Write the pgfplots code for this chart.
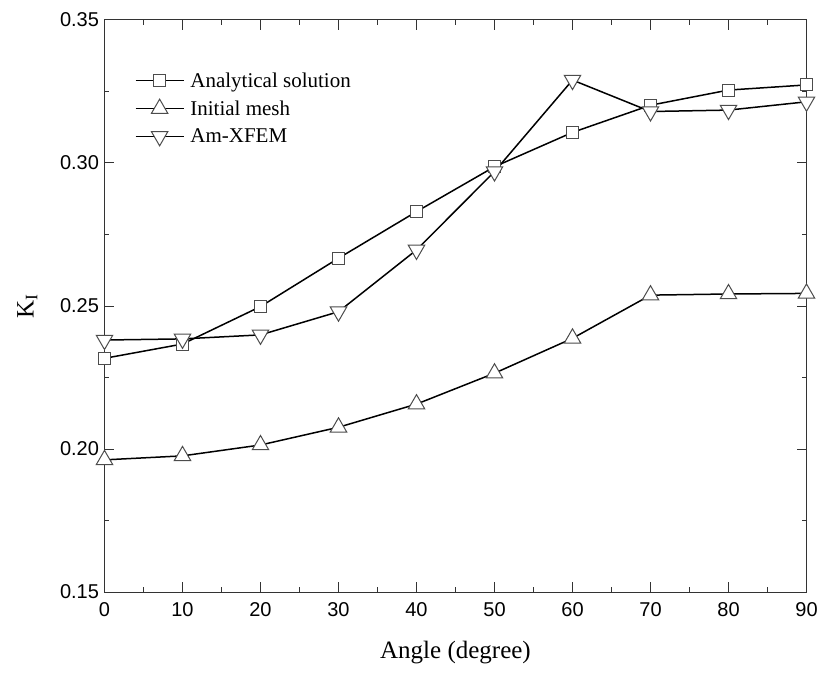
\documentclass[border=0pt]{standalone}
\usepackage{fontspec}
\setmainfont{Liberation Serif}
\setsansfont{Liberation Sans}
\usepackage{pgfplots}
\pgfplotsset{compat=1.18}
\begin{document}
\begin{tikzpicture}
\begin{axis}[
  scale only axis, width=702pt, height=572pt,
  xmin=0, xmax=90, ymin=0.15, ymax=0.35,
  xtick={0,10,20,30,40,50,60,70,80,90},
  ytick={0.15,0.20,0.25,0.30,0.35},
  minor x tick num=1, minor y tick num=1,
  tick align=inside, major tick length=10pt, minor tick length=5pt,
  axis line style={line width=1pt, black!80},
  every tick/.style={line width=1pt, black!80},
  /pgf/number format/assume math mode=true,
  yticklabel style={/pgf/number format/fixed, /pgf/number format/fixed zerofill, /pgf/number format/precision=2, xshift=-2pt},
  ticklabel style={font=\sffamily\fontsize{20}{22}\selectfont},
  xticklabel style={yshift=-7pt},
  xlabel={Angle (degree)},
  ylabel={K\textsubscript{I}},
  label style={font=\fontsize{25}{28}\selectfont},
  xlabel style={at={(axis description cs:0.5,-0.105)}, anchor=center},
  ylabel style={at={(axis description cs:-0.11,0.5)}, anchor=center},
  legend style={draw=none, fill=none, inner sep=0pt,
    at={(axis description cs:0.043,0.912)}, anchor=north west,
    font=\fontsize{21}{24}\selectfont, row sep=8pt,
    /tikz/every odd column/.append style={column sep=4pt}},
  legend cell align=left,
  legend image code/.code={\draw[mark repeat=2,mark phase=2,line width=1.5pt,#1] plot coordinates {(0pt,0pt) (24pt,0pt) (48pt,0pt)};},
  every axis plot/.append style={line width=1.5pt, black},
  clip=false,
]
\addplot[line width=1.5pt, mark=square*, mark size=6pt, mark options={fill=white, draw=black!70, line width=1pt}]
  coordinates {(0,0.2317) (10,0.2367) (20,0.2498) (30,0.2667) (40,0.2830) (50,0.2987) (60,0.3107) (70,0.3202) (80,0.3255) (90,0.3273)};
\addlegendentry{Analytical solution}
\addplot[line width=1.5pt, mark=triangle*, mark size=9.5pt, mark options={fill=white, draw=black!70, line width=1pt}]
  coordinates {(0,0.1962) (10,0.1976) (20,0.2014) (30,0.2076) (40,0.2157) (50,0.2265) (60,0.2387) (70,0.2538) (80,0.2542) (90,0.2544)};
\addlegendentry{Initial mesh}
\addplot[line width=1.5pt, mark=triangle*, mark size=9.5pt, mark options={fill=white, draw=black!70, line width=1pt, rotate=180}]
  coordinates {(0,0.2381) (10,0.2385) (20,0.2399) (30,0.2480) (40,0.2696) (50,0.2970) (60,0.3290) (70,0.3180) (80,0.3185) (90,0.3214)};
\addlegendentry{Am-XFEM}
\coordinate (bl) at (rel axis cs:0,0);
\coordinate (tr) at (rel axis cs:1,1);
\end{axis}
\pgfresetboundingbox
\path[use as bounding box] ([xshift=-104.5pt,yshift=-80pt]bl) rectangle ([xshift=14.5pt,yshift=20pt]tr);
\end{tikzpicture}
\end{document}
